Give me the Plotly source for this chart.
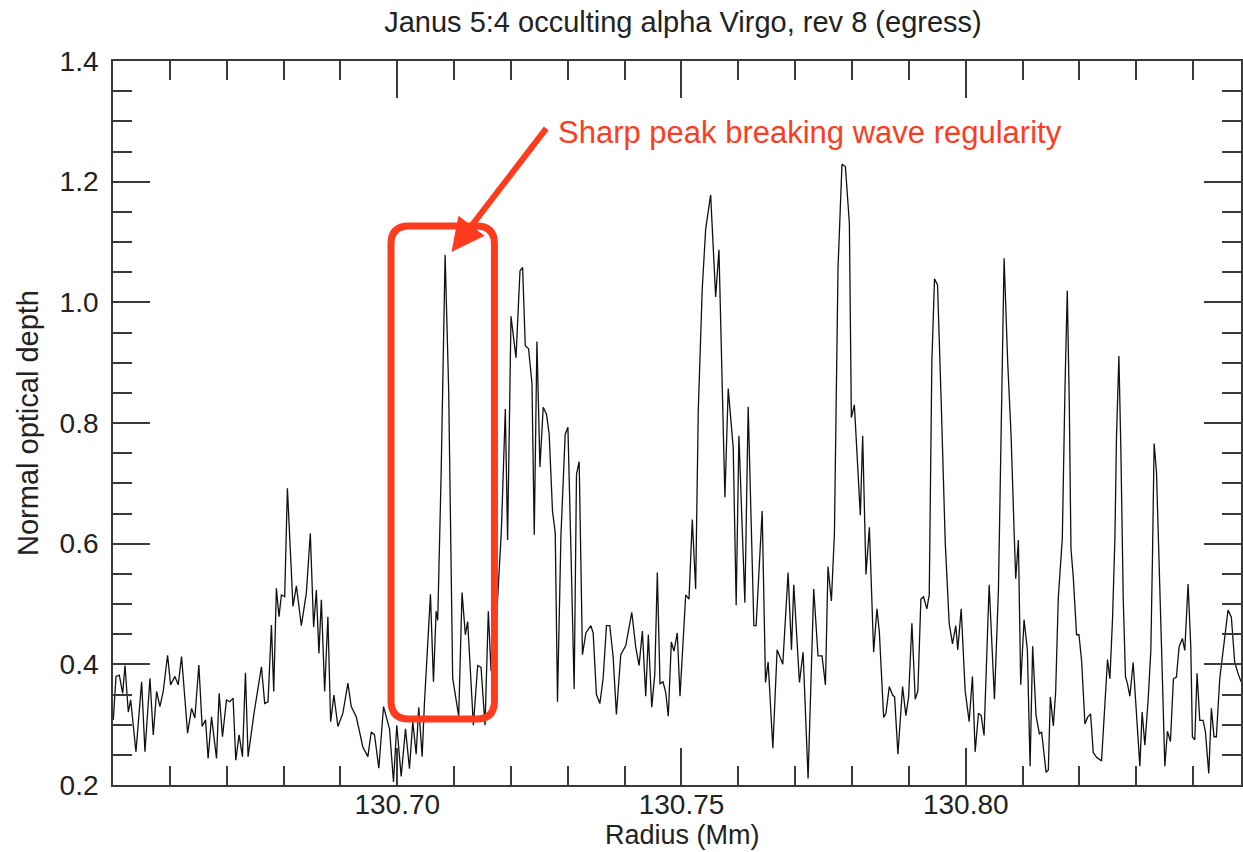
import plotly.graph_objects as go

# ---------------- data ----------------
radius_mm = [
    130.65005, 130.65053, 130.65111, 130.65170, 130.65211, 130.65269, 130.65311, 130.65404, 130.65504, 130.65562,
    130.65650, 130.65708, 130.65767, 130.65825, 130.65883, 130.65960, 130.66013, 130.66089, 130.66147, 130.66206,
    130.66312, 130.66382, 130.66440, 130.66510, 130.66568, 130.66628, 130.66673, 130.66733, 130.66821, 130.66867,
    130.66926, 130.66996, 130.67054, 130.67112, 130.67160, 130.67218, 130.67277, 130.67330, 130.67376, 130.67481,
    130.67611, 130.67669, 130.67727, 130.67787, 130.67827, 130.67874, 130.67920, 130.67962, 130.68020, 130.68068,
    130.68166, 130.68226, 130.68313, 130.68401, 130.68471, 130.68529, 130.68577, 130.68622, 130.68665, 130.68723,
    130.68780, 130.68828, 130.68886, 130.68956, 130.69044, 130.69132, 130.69191, 130.69279, 130.69395, 130.69483,
    130.69543, 130.69600, 130.69676, 130.69759, 130.69864, 130.69934, 130.69992, 130.70069, 130.70145, 130.70215,
    130.70273, 130.70333, 130.70378, 130.70438, 130.70478, 130.70584, 130.70637, 130.70684, 130.70712, 130.70772,
    130.70842, 130.70905, 130.70975, 130.71081, 130.71140, 130.71198, 130.71239, 130.71339, 130.71415, 130.71474,
    130.71544, 130.71602, 130.71650, 130.71743, 130.71831, 130.71901, 130.71941, 130.72001, 130.72089, 130.72159,
    130.72205, 130.72252, 130.72310, 130.72370, 130.72410, 130.72457, 130.72510, 130.72568, 130.72626, 130.72673,
    130.72731, 130.72779, 130.72819, 130.72879, 130.72954, 130.73002, 130.73054, 130.73112, 130.73153, 130.73200,
    130.73258, 130.73318, 130.73406, 130.73446, 130.73504, 130.73564, 130.73622, 130.73680, 130.73739, 130.73797,
    130.73855, 130.73932, 130.74020, 130.74126, 130.74196, 130.74254, 130.74312, 130.74371, 130.74417, 130.74477,
    130.74530, 130.74575, 130.74622, 130.74675, 130.74723, 130.74768, 130.74821, 130.74868, 130.74926, 130.74974,
    130.75074, 130.75132, 130.75190, 130.75249, 130.75295, 130.75365, 130.75425, 130.75513, 130.75601, 130.75659,
    130.75764, 130.75822, 130.75910, 130.75962, 130.76010, 130.76115, 130.76173, 130.76273, 130.76313, 130.76419,
    130.76478, 130.76524, 130.76607, 130.76682, 130.76782, 130.76875, 130.76935, 130.76975, 130.77075, 130.77139,
    130.77227, 130.77326, 130.77402, 130.77472, 130.77532, 130.77577, 130.77637, 130.77690, 130.77753, 130.77823,
    130.77883, 130.77953, 130.77988, 130.78041, 130.78146, 130.78187, 130.78245, 130.78305, 130.78380, 130.78438,
    130.78480, 130.78556, 130.78596, 130.78656, 130.78714, 130.78749, 130.78807, 130.78889, 130.78947, 130.78995,
    130.79053, 130.79112, 130.79158, 130.79211, 130.79258, 130.79316, 130.79358, 130.79404, 130.79451, 130.79504,
    130.79569, 130.79639, 130.79709, 130.79767, 130.79825, 130.79860, 130.79920, 130.79990, 130.80060, 130.80118,
    130.80166, 130.80224, 130.80271, 130.80322, 130.80412, 130.80505, 130.80575, 130.80605, 130.80675, 130.80738,
    130.80798, 130.80851, 130.80879, 130.80926, 130.80967, 130.81026, 130.81084, 130.81132, 130.81177, 130.81237,
    130.81295, 130.81335, 130.81413, 130.81453, 130.81488, 130.81541, 130.81581, 130.81628, 130.81699, 130.81746,
    130.81786, 130.81821, 130.81851, 130.81891, 130.81950, 130.81992, 130.82038, 130.82097, 130.82143, 130.82196,
    130.82243, 130.82301, 130.82389, 130.82449, 130.82494, 130.82536, 130.82582, 130.82624, 130.82652, 130.82694,
    130.82729, 130.82770, 130.82810, 130.82845, 130.82887, 130.82945, 130.83004, 130.83063, 130.83103, 130.83151,
    130.83209, 130.83256, 130.83285, 130.83314, 130.83355, 130.83397, 130.83442, 130.83502, 130.83548, 130.83601,
    130.83653, 130.83706, 130.83753, 130.83811, 130.83853, 130.83911, 130.83959, 130.83987, 130.84029, 130.84069,
    130.84117, 130.84175, 130.84215, 130.84275, 130.84321, 130.84368, 130.84409, 130.84468, 130.84556, 130.84614,
    130.84672, 130.84732, 130.84790, 130.84843,
]

optical_depth = [
    0.308, 0.380, 0.382, 0.352, 0.398, 0.321, 0.341, 0.255, 0.371, 0.255,
    0.377, 0.283, 0.355, 0.330, 0.355, 0.415, 0.366, 0.380, 0.366, 0.413,
    0.286, 0.327, 0.311, 0.399, 0.297, 0.308, 0.244, 0.313, 0.244, 0.352,
    0.280, 0.341, 0.338, 0.344, 0.241, 0.283, 0.247, 0.386, 0.247, 0.319,
    0.396, 0.335, 0.338, 0.465, 0.355, 0.526, 0.479, 0.515, 0.512, 0.692,
    0.496, 0.530, 0.464, 0.518, 0.617, 0.462, 0.523, 0.418, 0.507, 0.355,
    0.479, 0.305, 0.349, 0.297, 0.319, 0.369, 0.330, 0.313, 0.263, 0.247,
    0.288, 0.283, 0.228, 0.330, 0.293, 0.205, 0.299, 0.214, 0.293, 0.227,
    0.305, 0.251, 0.329, 0.247, 0.335, 0.516, 0.371, 0.488, 0.473, 0.715,
    1.079, 0.853, 0.377, 0.314, 0.519, 0.449, 0.471, 0.299, 0.398, 0.395,
    0.299, 0.488, 0.389, 0.470, 0.620, 0.823, 0.606, 0.977, 0.908, 1.052,
    1.058, 0.928, 0.923, 0.865, 0.615, 0.935, 0.727, 0.826, 0.814, 0.781,
    0.654, 0.618, 0.338, 0.612, 0.781, 0.793, 0.594, 0.359, 0.715, 0.736,
    0.416, 0.452, 0.464, 0.452, 0.350, 0.335, 0.377, 0.464, 0.464, 0.413,
    0.317, 0.416, 0.431, 0.486, 0.428, 0.398, 0.455, 0.347, 0.449, 0.329,
    0.383, 0.552, 0.368, 0.371, 0.353, 0.314, 0.437, 0.422, 0.452, 0.347,
    0.515, 0.508, 0.640, 0.525, 0.820, 1.022, 1.121, 1.178, 1.009, 1.087,
    0.677, 0.857, 0.759, 0.498, 0.779, 0.502, 0.827, 0.464, 0.464, 0.654,
    0.370, 0.404, 0.261, 0.424, 0.400, 0.552, 0.424, 0.532, 0.370, 0.420,
    0.211, 0.525, 0.414, 0.414, 0.366, 0.562, 0.505, 0.617, 1.056, 1.229,
    1.225, 1.131, 0.809, 0.830, 0.647, 0.779, 0.549, 0.627, 0.420, 0.492,
    0.454, 0.312, 0.319, 0.363, 0.349, 0.346, 0.251, 0.363, 0.315, 0.346,
    0.468, 0.342, 0.356, 0.508, 0.512, 0.492, 0.515, 0.901, 1.039, 1.029,
    0.833, 0.603, 0.468, 0.434, 0.464, 0.424, 0.492, 0.356, 0.305, 0.380,
    0.255, 0.319, 0.315, 0.282, 0.532, 0.342, 0.522, 0.711, 1.073, 0.901,
    0.779, 0.620, 0.542, 0.606, 0.366, 0.474, 0.424, 0.231, 0.430, 0.315,
    0.285, 0.288, 0.221, 0.225, 0.346, 0.298, 0.353, 0.510, 0.609, 0.859,
    1.019, 0.836, 0.592, 0.545, 0.449, 0.449, 0.406, 0.301, 0.312, 0.318,
    0.254, 0.246, 0.240, 0.336, 0.408, 0.376, 0.475, 0.609, 0.778, 0.911,
    0.755, 0.510, 0.379, 0.368, 0.347, 0.403, 0.315, 0.231, 0.321, 0.266,
    0.342, 0.423, 0.580, 0.766, 0.719, 0.592, 0.435, 0.231, 0.289, 0.272,
    0.376, 0.379, 0.429, 0.443, 0.423, 0.533, 0.429, 0.280, 0.275, 0.385,
    0.307, 0.307, 0.289, 0.219, 0.327, 0.280, 0.280, 0.376, 0.446, 0.490,
    0.478, 0.403, 0.385, 0.371,
]

x_tick_values = [130.70, 130.75, 130.80]
x_tick_labels = ["130.70", "130.75", "130.80"]
y_tick_values = [0.2, 0.4, 0.6, 0.8, 1.0, 1.2, 1.4]
y_tick_labels = ["0.2", "0.4", "0.6", "0.8", "1.0", "1.2", "1.4"]

title_text = "Janus 5:4 occulting alpha Virgo, rev 8 (egress)"
x_title = "Radius (Mm)"
y_title = "Normal optical depth"
note_text = "Sharp peak breaking wave regularity"

# ---------------- layout constants ----------------
W, H = 1243, 852
ML, MR, MT, MB = 113, 0, 61, 67
X_RANGE = [130.65, 130.84842]
Y_RANGE = [0.2, 1.4]
FONT = "Liberation Sans, Arial, Helvetica, sans-serif"
RED = "#ff3b1e"
AXIS_COLOR = "#3a3a3a"
TEXT_COLOR = "#222222"

plot_w = W - ML - MR
plot_h = H - MT - MB
x_per_px = (X_RANGE[1] - X_RANGE[0]) / plot_w
y_per_px = (Y_RANGE[1] - Y_RANGE[0]) / plot_h

# highlight box (rounded rectangle) in data units
bx0, bx1 = 130.6989, 130.7171
by0, by1 = 0.3094, 1.1266
rx, ry = 18 * x_per_px, 18 * y_per_px
box_path = (
    f"M {bx0+rx},{by1} L {bx1-rx},{by1} Q {bx1},{by1} {bx1},{by1-ry} "
    f"L {bx1},{by0+ry} Q {bx1},{by0} {bx1-rx},{by0} "
    f"L {bx0+rx},{by0} Q {bx0},{by0} {bx0},{by0+ry} "
    f"L {bx0},{by1-ry} Q {bx0},{by1} {bx0+rx},{by1} Z"
)

fig = go.Figure()
fig.add_trace(go.Scatter(
    x=radius_mm, y=optical_depth, mode="lines",
    line=dict(color="#111111", width=1.3),
    hoverinfo="skip", showlegend=False,
))

axis_common = dict(
    showgrid=False, zeroline=False, showline=True, linecolor=AXIS_COLOR, linewidth=1.8,
    mirror="ticks", ticks="inside", tickcolor=AXIS_COLOR, tickwidth=1.5,
    tickfont=dict(family=FONT, size=28, color=TEXT_COLOR),
)

fig.update_xaxes(
    range=X_RANGE, tickvals=x_tick_values, ticktext=x_tick_labels, ticklen=37,
    minor=dict(dtick=0.01, tick0=130.70, ticklen=19, ticks="inside", tickcolor=AXIS_COLOR, tickwidth=1.5),
    ticklabelstandoff=-7,
    **axis_common,
)
fig.update_yaxes(
    range=Y_RANGE, tickvals=y_tick_values, ticktext=y_tick_labels, ticklen=37,
    minor=dict(dtick=0.05, tick0=0.2, ticklen=19, ticks="inside", tickcolor=AXIS_COLOR, tickwidth=1.5),
    title=dict(text=y_title, font=dict(family=FONT, size=29, color=TEXT_COLOR), standoff=12),
    ticklabelstandoff=7,
    **axis_common,
)

fig.add_shape(type="path", path=box_path, xref="x", yref="y",
              line=dict(color=RED, width=7), layer="above")

# arrow (empty-text annotation)
fig.add_annotation(
    x=130.70953, y=1.0835, xref="x", yref="y", text="",
    showarrow=True, ax=96, ay=-125, axref="pixel", ayref="pixel",
    arrowhead=2, arrowsize=1.1, arrowwidth=6, arrowcolor=RED, standoff=0,
)
fig.add_annotation(
    x=0.3929, y=0.9006, xref="paper", yref="paper", text=note_text,
    showarrow=False, xanchor="left", yanchor="middle",
    font=dict(family=FONT, size=31, color=RED),
)
# x-axis title placed as annotation just below the tick labels
fig.add_annotation(
    x=0.5053, y=-(835 - (H - MB)) / plot_h, xref="paper", yref="paper", text=x_title,
    showarrow=False, xanchor="center", yanchor="middle",
    font=dict(family=FONT, size=27, color=TEXT_COLOR),
)

fig.update_layout(
    width=W, height=H, autosize=False,
    margin=dict(l=ML, r=MR, t=MT, b=MB, pad=0),
    paper_bgcolor="white", plot_bgcolor="white",
    title=dict(text=title_text, x=0.5053, xref="paper", xanchor="center",
               y=1 - 22 / H, yref="container", yanchor="middle",
               font=dict(family=FONT, size=29, color=TEXT_COLOR)),
)

fig.write_html("out.html")
